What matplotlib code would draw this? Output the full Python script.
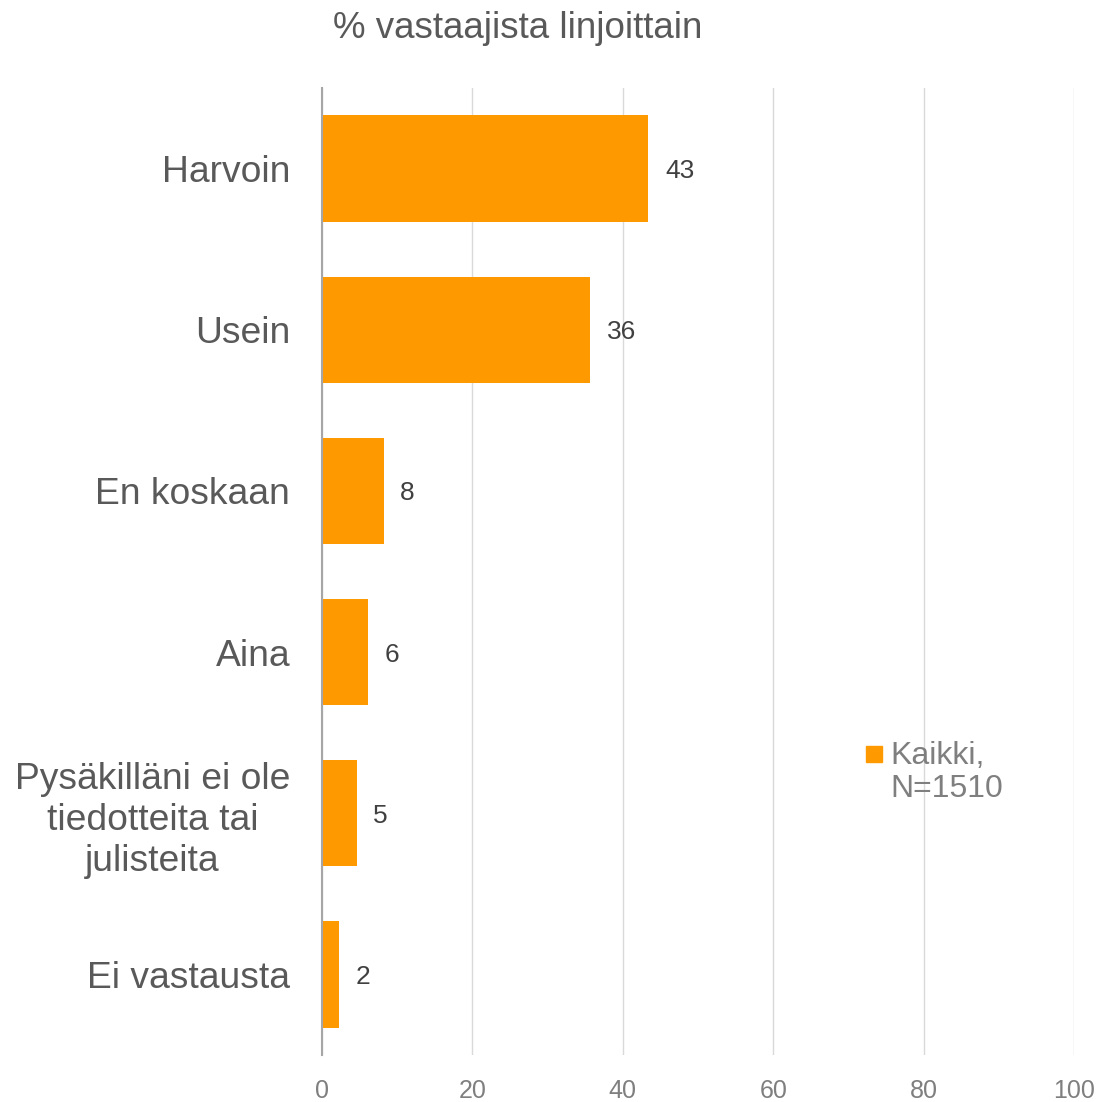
#!/usr/bin/env python

import numpy as np
from matplotlib import pyplot as plt
from matplotlib.patches import Rectangle

categories = ['Harvoin', 'Usein', 'En koskaan', 'Aina',
              'Pysäkilläni ei ole\ntiedotteita tai\njulisteita', 'Ei vastausta']
values = [43.4, 35.7, 8.2, 6.1, 4.6, 2.2]
value_labels = ['43', '36', '8', '6', '5', '2']
xticks = [0, 20, 40, 60, 80, 100]
legend_label = 'Kaikki,\nN=1510'
title = '% vastaajista linjoittain'

plt.rcParams['font.family'] = ['Liberation Sans', 'DejaVu Sans']

ORANGE = '#FF9900'
W = 1102.

fig = plt.figure(figsize=(11.02, 11.02), dpi=100)
ax = fig.add_axes([0.2922, 0.0426, 0.6824, 0.8775])

y = np.arange(len(categories))
ax.barh(y, values, height=0.66, color=ORANGE, zorder=3)

ax.set_xlim(0, 100)
ax.set_ylim(len(categories) - 0.5, -0.5)
ax.set_xticks(xticks)
ax.set_xticklabels([str(t) for t in xticks], fontsize=18, color='#7f7f7f')
ax.tick_params(axis='x', length=0, pad=17)
ax.set_yticks(y)
ax.set_yticklabels(categories, fontsize=26.8, color='#595959',
                   multialignment='center', linespacing=1.22)
ax.tick_params(axis='y', length=0, pad=23)

ax.grid(axis='x', color='#d9d9d9', linewidth=1, zorder=0)
for side in ['top', 'right', 'bottom']:
    ax.spines[side].set_visible(False)
ax.spines['left'].set_color('#a6a6a6')
ax.spines['left'].set_linewidth(1.5)
ax.spines['left'].set_zorder(4)

# value labels next to bar ends
for yi, v, lab in zip(y, values, value_labels):
    ax.annotate(lab, (v, yi), xytext=(12, 0), textcoords='offset points',
                ha='left', va='center_baseline', fontsize=19, color='#404040')

# legend drawn by hand so the square sits on the first line like the original
fig.patches.append(Rectangle((866 / W, 1 - 762 / W), 16 / W, 16 / W,
                             transform=fig.transFigure, color=ORANGE))
fig.text(890 / W, 1 - 741 / W, legend_label, ha='left', va='top',
         fontsize=23, color='#7f7f7f', linespacing=1.15)

fig.text(518 / W, 1 - 28 / W, title, ha='center', va='center',
         fontsize=26.5, color='#595959')

fig.savefig('out.png', dpi=100)
plt.close(fig)
